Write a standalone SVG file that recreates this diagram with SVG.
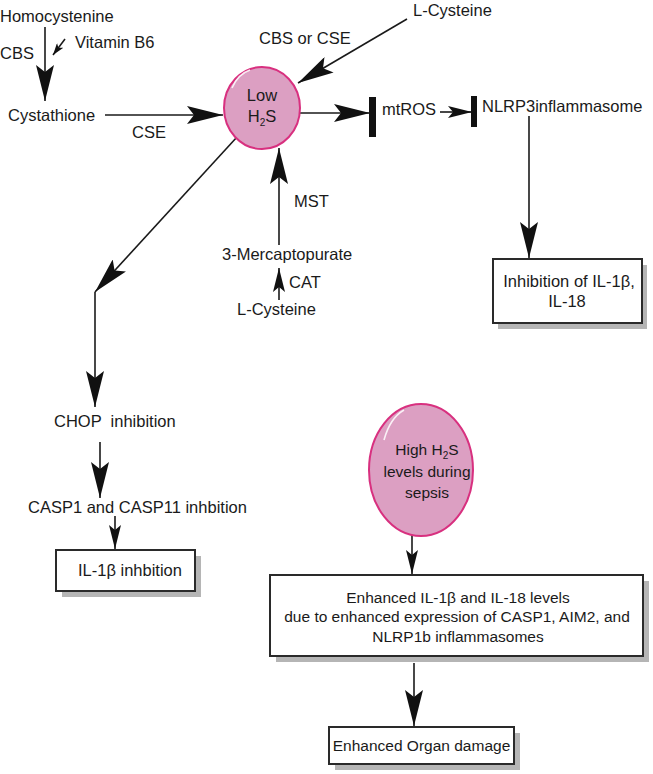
<svg xmlns="http://www.w3.org/2000/svg" width="653" height="774" viewBox="0 0 653 774">
<defs>
<style>
text{font-family:"Liberation Sans",Arial,sans-serif;font-size:16.5px;fill:#1a1a1a}
.s{font-size:15.5px}
.m{text-anchor:middle}
.ln{fill:none;stroke:#1a1a1a;stroke-width:1.6}
.big{marker-end:url(#ahL)}
.sm{marker-end:url(#ahS)}
.circ{fill:#dc9fc2;stroke:#d8307f;stroke-width:2}
.hl{fill:none;stroke:#fff;stroke-width:1.6;stroke-opacity:0.85}
.box{fill:#fff;stroke:#2a2a2a;stroke-width:2}
.shadow{fill:#b5b5b5}
.bar{fill:#111}
</style>
<marker id="ahL" viewBox="0 0 36 18" refX="36" refY="9" markerWidth="36" markerHeight="18" orient="auto" markerUnits="userSpaceOnUse"><path d="M0,0 L36,9 L0,18 L7,9 Z" fill="#111"/></marker>
<marker id="ahS" viewBox="0 0 24 12" refX="24" refY="6" markerWidth="24" markerHeight="12" orient="auto" markerUnits="userSpaceOnUse"><path d="M0,0 L24,6 L0,12 L5,6 Z" fill="#111"/></marker>
<marker id="ahT" viewBox="0 0 12 8" refX="12" refY="4" markerWidth="12" markerHeight="8" orient="auto" markerUnits="userSpaceOnUse"><path d="M0,0 L12,4 L0,8 L3,4 Z" fill="#111"/></marker>
</defs>

<g id="connectors">
<line class="ln big" x1="45" y1="27" x2="45" y2="101"/>
<line class="ln" x1="65" y1="39" x2="53" y2="55" marker-end="url(#ahT)"/>
<line class="ln big" x1="105" y1="115" x2="223" y2="115"/>
<line class="ln big" x1="407" y1="19" x2="298" y2="83"/>
<line class="ln big" x1="300" y1="113" x2="370" y2="113"/>
<rect class="bar" x="369" y="97" width="7" height="40"/>
<line class="ln sm" x1="440" y1="112" x2="472" y2="112"/>
<rect class="bar" x="471" y="96" width="6" height="31"/>
<line class="ln big" x1="529" y1="116" x2="529" y2="258"/>
<line class="ln big" x1="279" y1="245" x2="279" y2="148"/>
<line class="ln sm" x1="279" y1="300" x2="279" y2="268"/>
<line class="ln big" x1="237" y1="137" x2="95" y2="292"/>
<line class="ln big" x1="95" y1="292" x2="95" y2="407"/>
<line class="ln big" x1="100" y1="442" x2="100" y2="498"/>
<line class="ln sm" x1="115" y1="516" x2="115" y2="549"/>
<line class="ln sm" x1="412" y1="530" x2="412" y2="574"/>
<line class="ln big" x1="414" y1="663" x2="414" y2="726"/>
</g>

<g id="homocystenine"><text x="0" y="22">Homocystenine</text></g>
<g id="cbs-label"><text x="0" y="59">CBS</text></g>
<g id="vitamin-b6"><text x="75" y="48">Vitamin B6</text></g>
<g id="cystathione"><text x="8" y="121">Cystathione</text></g>
<g id="cse-label"><text x="132" y="138">CSE</text></g>
<g id="cbs-or-cse"><text x="259" y="44">CBS or CSE</text></g>
<g id="l-cysteine-top"><text x="413" y="16">L-Cysteine</text></g>

<g id="low-h2s">
<ellipse class="circ" cx="262" cy="108" rx="38" ry="41"/>
<path class="hl" d="M232,88 Q238,74 250,70"/>
<text class="m" x="262" y="101">Low</text>
<text class="m" x="262" y="122">H<tspan font-size="10" dy="4">2</tspan><tspan dy="-4">S</tspan></text>
</g>

<g id="mtros"><text x="382" y="115">mtROS</text></g>
<g id="nlrp3"><text x="482" y="112">NLRP3inflammasome</text></g>
<g id="mst-label"><text x="294" y="207">MST</text></g>
<g id="mercaptopurate"><text x="222" y="260">3-Mercaptopurate</text></g>
<g id="cat-label"><text x="289" y="288">CAT</text></g>
<g id="l-cysteine-bottom"><text x="237" y="315">L-Cysteine</text></g>

<g id="inhibition-il1b-il18">
<rect class="shadow" x="498" y="265" width="149" height="64"/>
<rect class="box" x="493" y="259" width="149" height="64"/>
<text class="m" x="569" y="287">Inhibition of IL-1β,</text>
<text class="m" x="567" y="307">IL-18</text>
</g>

<g id="chop"><text x="54" y="427" xml:space="preserve" style="white-space:pre">CHOP  inhibition</text></g>
<g id="casp"><text x="28" y="513">CASP1 and CASP11 inhbition</text></g>

<g id="il1b-inhibition">
<rect class="shadow" x="62" y="556" width="139" height="41"/>
<rect class="box" x="56" y="550" width="139" height="41"/>
<text class="m" x="130" y="576">IL-1β inhbition</text>
</g>

<g id="high-h2s">
<ellipse class="circ" cx="421" cy="470" rx="52" ry="66"/>
<path class="hl" d="M384,440 Q390,418 404,410"/>
<text class="m s" x="427" y="455">High H<tspan font-size="10" dy="4">2</tspan><tspan dy="-4">S</tspan></text>
<text class="m s" x="427" y="477">levels during</text>
<text class="m s" x="427" y="498">sepsis</text>
</g>

<g id="enhanced-levels">
<rect class="shadow" x="276" y="581" width="373" height="81"/>
<rect class="box" x="270" y="575" width="373" height="81"/>
<text class="m s" x="458" y="603">Enhanced IL-1β and IL-18 levels</text>
<text class="m s" x="457" y="622">due to enhanced expression of CASP1, AIM2, and</text>
<text class="m s" x="458" y="642">NLRP1b inflammasomes</text>
</g>

<g id="organ-damage">
<rect class="shadow" x="335" y="733" width="185" height="37"/>
<rect class="box" x="329" y="727" width="185" height="37"/>
<text class="m s" x="421.5" y="751">Enhanced Organ damage</text>
</g>
</svg>
